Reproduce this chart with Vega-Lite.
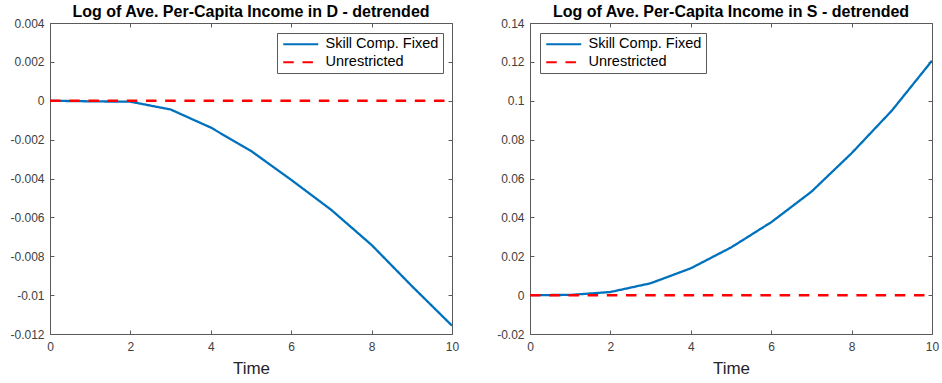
{
  "$schema": "https://vega.github.io/schema/vega-lite/v6.json",
  "padding": {"left": 9, "top": 4, "right": 0, "bottom": 0},
  "bounds": "flush",
  "spacing": 78,
  "background": "white",
  "datasets": {
    "D": [
      {"t": 0, "v": 0, "s": "Skill Comp. Fixed"},
      {"t": 1, "v": -0.00003, "s": "Skill Comp. Fixed"},
      {"t": 2, "v": -0.00005, "s": "Skill Comp. Fixed"},
      {"t": 3, "v": -0.00045, "s": "Skill Comp. Fixed"},
      {"t": 4, "v": -0.00138, "s": "Skill Comp. Fixed"},
      {"t": 5, "v": -0.00258, "s": "Skill Comp. Fixed"},
      {"t": 6, "v": -0.00407, "s": "Skill Comp. Fixed"},
      {"t": 7, "v": -0.00562, "s": "Skill Comp. Fixed"},
      {"t": 8, "v": -0.00742, "s": "Skill Comp. Fixed"},
      {"t": 9, "v": -0.00953, "s": "Skill Comp. Fixed"},
      {"t": 10, "v": -0.01157, "s": "Skill Comp. Fixed"},
      {"t": 0, "v": 0, "s": "Unrestricted"},
      {"t": 1, "v": 0, "s": "Unrestricted"},
      {"t": 2, "v": 0, "s": "Unrestricted"},
      {"t": 3, "v": 0, "s": "Unrestricted"},
      {"t": 4, "v": 0, "s": "Unrestricted"},
      {"t": 5, "v": 0, "s": "Unrestricted"},
      {"t": 6, "v": 0, "s": "Unrestricted"},
      {"t": 7, "v": 0, "s": "Unrestricted"},
      {"t": 8, "v": 0, "s": "Unrestricted"},
      {"t": 9, "v": 0, "s": "Unrestricted"},
      {"t": 10, "v": 0, "s": "Unrestricted"}
    ],
    "S": [
      {"t": 0, "v": 0, "s": "Skill Comp. Fixed"},
      {"t": 1, "v": 0.0001, "s": "Skill Comp. Fixed"},
      {"t": 2, "v": 0.0016, "s": "Skill Comp. Fixed"},
      {"t": 3, "v": 0.0061, "s": "Skill Comp. Fixed"},
      {"t": 4, "v": 0.0138, "s": "Skill Comp. Fixed"},
      {"t": 5, "v": 0.0245, "s": "Skill Comp. Fixed"},
      {"t": 6, "v": 0.0375, "s": "Skill Comp. Fixed"},
      {"t": 7, "v": 0.0532, "s": "Skill Comp. Fixed"},
      {"t": 8, "v": 0.073, "s": "Skill Comp. Fixed"},
      {"t": 9, "v": 0.0949, "s": "Skill Comp. Fixed"},
      {"t": 10, "v": 0.1206, "s": "Skill Comp. Fixed"},
      {"t": 0, "v": 0, "s": "Unrestricted"},
      {"t": 1, "v": 0, "s": "Unrestricted"},
      {"t": 2, "v": 0, "s": "Unrestricted"},
      {"t": 3, "v": 0, "s": "Unrestricted"},
      {"t": 4, "v": 0, "s": "Unrestricted"},
      {"t": 5, "v": 0, "s": "Unrestricted"},
      {"t": 6, "v": 0, "s": "Unrestricted"},
      {"t": 7, "v": 0, "s": "Unrestricted"},
      {"t": 8, "v": 0, "s": "Unrestricted"},
      {"t": 9, "v": 0, "s": "Unrestricted"},
      {"t": 10, "v": 0, "s": "Unrestricted"}
    ]
  },
  "hconcat": [
    {
      "width": 402,
      "height": 311,
      "title": {"text": "Log of Ave. Per-Capita Income in D - detrended"},
      "data": {"name": "D"},
      "layer": [
        {
          "transform": [{"filter": "datum.s == 'Skill Comp. Fixed'"}],
          "mark": {"type": "line", "strokeWidth": 2.3, "clip": true},
          "encoding": {
            "x": {"field": "t", "type": "quantitative", "scale": {"domain": [0, 10], "nice": false}, "axis": {"orient": "bottom", "values": [0, 2, 4, 6, 8, 10], "title": "Time"}},
            "y": {"field": "v", "type": "quantitative", "scale": {"domain": [-0.012, 0.004], "nice": false, "zero": false}, "axis": {"orient": "left", "values": [-0.012, -0.01, -0.008, -0.006, -0.004, -0.002, 0, 0.002, 0.004], "labelExpr": "toString(datum.value)", "title": null}},
            "color": {"field": "s", "type": "nominal", "scale": {"domain": ["Skill Comp. Fixed", "Unrestricted"], "range": ["#0072BD", "#FF0000"]}, "legend": {"orient": "top-right"}},
            "strokeDash": {"field": "s", "type": "nominal", "scale": {"domain": ["Skill Comp. Fixed", "Unrestricted"], "range": [[1, 0], [10.5, 8.7]]}, "legend": {"orient": "top-right"}}
          }
        },
        {
          "transform": [{"filter": "datum.s == 'Unrestricted'"}],
          "mark": {"type": "line", "strokeWidth": 2.5, "clip": true},
          "encoding": {
            "x": {"field": "t", "type": "quantitative", "axis": {"orient": "top", "values": [0, 2, 4, 6, 8, 10], "labels": false, "title": null}},
            "y": {"field": "v", "type": "quantitative", "axis": {"orient": "right", "values": [-0.012, -0.01, -0.008, -0.006, -0.004, -0.002, 0, 0.002, 0.004], "labels": false, "title": null}},
            "color": {"field": "s", "type": "nominal", "legend": {"orient": "top-right"}},
            "strokeDash": {"field": "s", "type": "nominal", "legend": {"orient": "top-right"}}
          }
        }
      ],
      "resolve": {"axis": {"x": "independent", "y": "independent"}}
    },
    {
      "width": 402,
      "height": 311,
      "title": {"text": "Log of Ave. Per-Capita Income in S - detrended"},
      "data": {"name": "S"},
      "layer": [
        {
          "transform": [{"filter": "datum.s == 'Skill Comp. Fixed'"}],
          "mark": {"type": "line", "strokeWidth": 2.3, "clip": true},
          "encoding": {
            "x": {"field": "t", "type": "quantitative", "scale": {"domain": [0, 10], "nice": false}, "axis": {"orient": "bottom", "values": [0, 2, 4, 6, 8, 10], "title": "Time"}},
            "y": {"field": "v", "type": "quantitative", "scale": {"domain": [-0.02, 0.14], "nice": false, "zero": false}, "axis": {"orient": "left", "values": [-0.02, 0, 0.02, 0.04, 0.06, 0.08, 0.1, 0.12, 0.14], "labelExpr": "toString(datum.value)", "title": null}},
            "color": {"field": "s", "type": "nominal", "scale": {"domain": ["Skill Comp. Fixed", "Unrestricted"], "range": ["#0072BD", "#FF0000"]}, "legend": {"orient": "top-left"}},
            "strokeDash": {"field": "s", "type": "nominal", "scale": {"domain": ["Skill Comp. Fixed", "Unrestricted"], "range": [[1, 0], [10.5, 8.7]]}, "legend": {"orient": "top-left"}}
          }
        },
        {
          "transform": [{"filter": "datum.s == 'Unrestricted'"}],
          "mark": {"type": "line", "strokeWidth": 2.5, "clip": true},
          "encoding": {
            "x": {"field": "t", "type": "quantitative", "axis": {"orient": "top", "values": [0, 2, 4, 6, 8, 10], "labels": false, "title": null}},
            "y": {"field": "v", "type": "quantitative", "axis": {"orient": "right", "values": [-0.02, 0, 0.02, 0.04, 0.06, 0.08, 0.1, 0.12, 0.14], "labels": false, "title": null}},
            "color": {"field": "s", "type": "nominal", "legend": {"orient": "top-left"}},
            "strokeDash": {"field": "s", "type": "nominal", "legend": {"orient": "top-left"}}
          }
        }
      ],
      "resolve": {"axis": {"x": "independent", "y": "independent"}}
    }
  ],
  "resolve": {"scale": {"color": "independent", "strokeDash": "independent"}, "legend": {"color": "independent", "strokeDash": "independent"}},
  "config": {
    "font": "Liberation Sans",
    "view": {"stroke": null},
    "title": {"fontSize": 16, "fontWeight": "bold", "color": "#000000", "baseline": "alphabetic", "offset": -3.4, "anchor": "middle", "frame": "group", "font": "Liberation Sans"},
    "axis": {
      "grid": false,
      "labelFont": "Liberation Sans",
      "labelFontSize": 12,
      "labelColor": "#404040",
      "labelFlush": false,
      "tickColor": "#5a5a5a",
      "domainColor": "#5a5a5a",
      "domainWidth": 1,
      "tickWidth": 1,
      "tickSize": -4,
      "labelPadding": 11.7,
      "titleFont": "Liberation Sans",
      "titleFontSize": 17,
      "titleFontWeight": "normal",
      "titleColor": "#262626",
      "titlePadding": 7.3
    },
    "axisLeft": {"labelPadding": 10},
    "axisTop": {"labelPadding": 0, "minExtent": 0, "maxExtent": 0},
    "axisRight": {"labelPadding": 0, "minExtent": 0, "maxExtent": 0},
    "legend": {
      "title": null,
      "offset": 9.5,
      "padding": 4,
      "strokeColor": "#5a5a5a",
      "fillColor": "white",
      "symbolType": "M-1,0H6",
      "symbolSize": 100,
      "symbolFillColor": "transparent",
      "symbolStrokeWidth": 2,
      "labelFont": "Liberation Sans",
      "labelFontSize": 14.5,
      "labelColor": "#000000",
      "labelOffset": 30,
      "rowPadding": 3
    }
  }
}
